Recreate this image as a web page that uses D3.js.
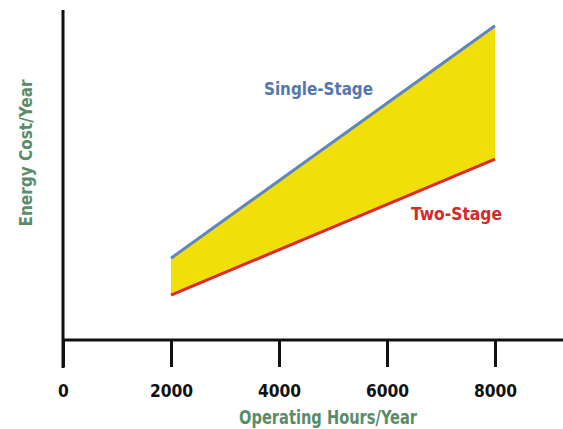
<!DOCTYPE html>
<html><head><meta charset="utf-8">
<script src="https://cdn.jsdelivr.net/npm/d3@7"></script>
<style>
html,body{margin:0;padding:0;background:#fff;}
text{font-family:"DejaVu Sans Condensed","DejaVu Sans",sans-serif;font-weight:bold;}
</style></head>
<body>
<svg id="c" width="563" height="429"></svg>
<script>
const hours = [2000, 8000];
const singleStage = [24.8, 95.2];
const twoStage = [13.6, 54.8];
const xTicks = [0, 2000, 4000, 6000, 8000];
const seriesNames = ["Single-Stage", "Two-Stage"];
const xTitle = "Operating Hours/Year";
const yTitle = "Energy Cost/Year";

const svg = d3.select("#c");
const x = d3.scaleLinear().domain([0, 8000]).range([63, 495]);
const y = d3.scaleLinear().domain([0, 100]).range([340, 10]);

const pts = hours.map((h, i) => ({h, s: singleStage[i], t: twoStage[i]}));

svg.append("path").datum(pts)
  .attr("d", d3.area().x(d => x(d.h)).y0(d => y(d.t)).y1(d => y(d.s)))
  .attr("fill", "#f1df0a");

svg.append("path").datum(pts)
  .attr("d", d3.line().x(d => x(d.h)).y(d => y(d.s)))
  .attr("fill", "none").attr("stroke", "#5f86bf").attr("stroke-width", 3);
svg.append("path").datum(pts)
  .attr("d", d3.line().x(d => x(d.h)).y(d => y(d.t)))
  .attr("fill", "none").attr("stroke", "#dc2a2a").attr("stroke-width", 3);

svg.append("line").attr("x1", x(0)).attr("x2", x(0)).attr("y1", y(100)).attr("y2", 368)
  .attr("stroke", "#111").attr("stroke-width", 3);
svg.append("line").attr("x1", x(0)).attr("x2", 563).attr("y1", y(0)).attr("y2", y(0))
  .attr("stroke", "#111").attr("stroke-width", 3);

const xAxis = d3.axisBottom(x).tickValues(xTicks).tickSize(27).tickPadding(17).tickFormat(d3.format("d"));
const gx = svg.append("g").attr("transform", `translate(0,${y(0)})`).call(xAxis);
gx.select(".domain").remove();
gx.selectAll(".tick line").attr("stroke", "#111").attr("stroke-width", 3);
gx.selectAll(".tick text").attr("fill", "#111").style("font-size", "18px")
  .each(function(d){ const s = String(d); d3.select(this).attr("textLength", s.length * 10.8).attr("lengthAdjust", "spacingAndGlyphs"); });

svg.append("text").attr("x", 328).attr("y", 424).attr("text-anchor", "middle")
  .attr("fill", "#5a8c68").style("font-size", "19px")
  .attr("textLength", 178).attr("lengthAdjust", "spacingAndGlyphs").text(xTitle);
svg.append("text").attr("transform", "translate(32,153) rotate(-90)").attr("text-anchor", "middle")
  .attr("fill", "#5a8c68").style("font-size", "18px")
  .attr("textLength", 147).attr("lengthAdjust", "spacingAndGlyphs").text(yTitle);

svg.append("text").attr("x", 318.5).attr("y", 95).attr("text-anchor", "middle")
  .attr("fill", "#5577ad").style("font-size", "18px")
  .attr("textLength", 109).attr("lengthAdjust", "spacingAndGlyphs").text(seriesNames[0]);
svg.append("text").attr("x", 456.5).attr("y", 220).attr("text-anchor", "middle")
  .attr("fill", "#d52a2a").style("font-size", "18px")
  .attr("textLength", 91).attr("lengthAdjust", "spacingAndGlyphs").text(seriesNames[1]);
</script>
</body></html>
